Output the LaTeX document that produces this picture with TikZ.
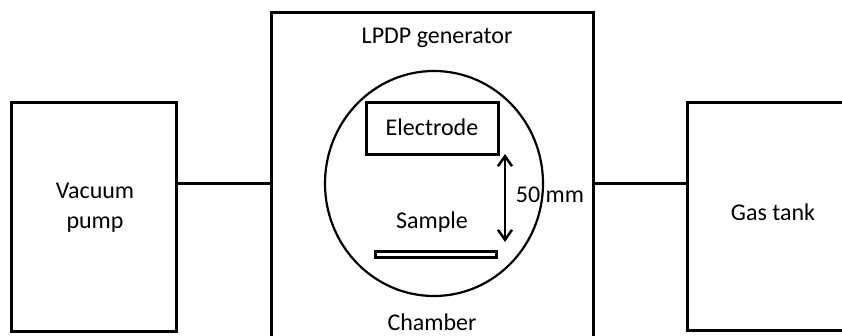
\documentclass[tikz,border=0pt]{standalone}
\usepackage{fontspec}
\setmainfont{Carlito}
\usetikzlibrary{arrows.meta,shapes.geometric}
\begin{document}
\begin{tikzpicture}[x=1pt,y=-1pt,
  box/.style={draw,line width=3pt,inner sep=0pt},
  lbl/.style={font=\fontsize{24}{30}\selectfont,inner sep=0pt,align=center},
  conn/.style={line width=3pt}]
\useasboundingbox (0,0) rectangle (842,335);
\clip (0,0) rectangle (842,335);
% boxes
\node[box,minimum width=165pt,minimum height=229pt] (vp) at (94,216.5) {};
\node[box,minimum width=322pt,minimum height=335pt] (gen) at (432,179.5) {};
\node[box,minimum width=166pt,minimum height=228pt] (gt) at (770,216) {};
% chamber
\node[draw,line width=2.2pt,ellipse,minimum width=218pt,minimum height=225pt,inner sep=0pt] (ch) at (434,183.5) {};
\node[box,minimum width=132pt,minimum height=52pt] (el) at (432,128) {};
\node[draw,line width=2.2pt,minimum width=121pt,minimum height=6pt,inner sep=0pt] (plate) at (436,254.5) {};
% texts
\node[lbl] (tvp) at (95,208) {Vacuum\\pump};
\node[lbl] (tgt) at (773,212) {Gas tank};
\node[lbl] (tgen) at (437,38) {LPDP generator};
\node[lbl] (tel) at (432,127) {Electrode};
\node[lbl] (tsa) at (432,222) {Sample};
\node[lbl] (tch) at (432,322) {Chamber};
\node[lbl] (tmm) at (550,195) {50 mm};
% distance arrow
\coordinate (atop) at (505,154);
\coordinate (abot) at (505,242);
\draw[line width=2.5pt,{Straight Barb[length=10pt,width=14pt]}-{Straight Barb[length=10pt,width=14pt]}] (atop) -- (abot);
% connectors
\draw[conn] (vp.east |- ch.center) -- (gen.west |- ch.center);
\draw[conn] (gen.east |- ch.center) -- (gt.west |- ch.center);
\end{tikzpicture}
\end{document}
